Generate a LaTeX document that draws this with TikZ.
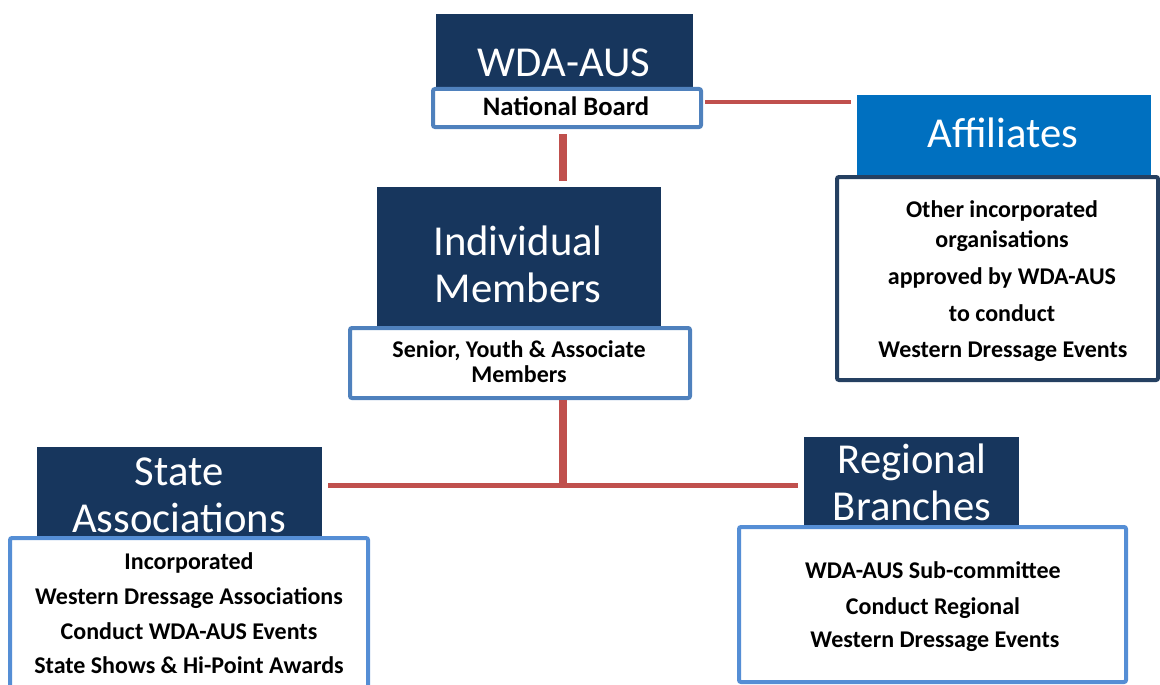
\documentclass[tikz,border=0pt]{standalone}
\usepackage{fontspec}
\setmainfont{Carlito}
\usetikzlibrary{fit,calc}

\definecolor{navy}{HTML}{17365D}
\definecolor{affblue}{HTML}{0070C0}
\definecolor{rimblue}{HTML}{4F81BD}
\definecolor{rimlight}{HTML}{558ED5}
\definecolor{rimdark}{HTML}{254061}
\definecolor{linkred}{HTML}{C0504D}

\tikzset{
  headbox/.style={fill=navy, draw=none, inner sep=0pt},
  affhead/.style={fill=affblue, draw=none, inner sep=0pt},
  infobox/.style={fill=white, draw=rimblue, line width=3pt, rounded corners=1.5pt, inner sep=0pt},
  infolight/.style={infobox, draw=rimlight},
  infodark/.style={infobox, draw=rimdark},
  headtext/.style={text=white, font=\fontsize{32}{36}\selectfont, anchor=base, inner sep=0pt},
  bodytext/.style={text=black, font=\bfseries\fontsize{18}{21}\selectfont, anchor=base, inner sep=0pt},
  boardtext/.style={bodytext, font=\bfseries\fontsize{20}{23}\selectfont},
  linkthick/.style={draw=linkred, line width=6pt},
  linkthin/.style={draw=linkred, line width=3pt},
}

\begin{document}
\begin{tikzpicture}[x=0.75pt, y=-0.75pt]
\useasboundingbox (0,0) rectangle (1160,685);
\clip (0,0) rectangle (1160,685);

% ---- header boxes ----
\node[headbox, fit={(436,14)(693,110)}] (wda) {};
\node[affhead, fit={(857,95)(1151,177)}] (aff) {};
\node[headbox, fit={(377,187)(661,330)}] (ind) {};
\node[headbox, fit={(37,447)(322,540)}] (sta) {};
\node[headbox, fit={(804,437)(1019,528)}] (reg) {};

% ---- description boxes ----
\node[infobox,   fit={(433,89)(701,127)}]   (nb)   {};
\node[infodark,  fit={(837,177)(1158,380)}] (affd) {};
\node[infobox,   fit={(350,328)(690,398)}]  (mem)  {};
\node[infolight, fit={(10,538)(368,700)}]   (stad) {};
\node[infolight, fit={(739,527)(1126,682)}] (regd) {};

% ---- headings ----
\node[headtext] (t1) at (564,77) {WDA-AUS};
\node[headtext] (t2) at (1003,147) {Affiliates};
\node[headtext] (t3) at (518,255) {Individual};
\node[headtext] (t4) at (518,302) {Members};
\node[headtext] (t5) at (179,485) {State};
\node[headtext] (t6) at (179,532) {Associations};
\node[headtext] (t7) at (912,473) {Regional};
\node[headtext] (t8) at (912,520) {Branches};

% ---- descriptions ----
\node[boardtext] (d1) at (566,115) {National Board};

\node[bodytext] (a1) at (1002,217) {Other incorporated};
\node[bodytext] (a2) at (1002,247) {organisations};
\node[bodytext] (a3) at (1002,284) {approved by WDA-AUS};
\node[bodytext] (a4) at (1002,321) {to conduct};
\node[bodytext] (a5) at (1003,357) {Western Dressage Events};

\node[bodytext] (m1) at (519,357) {Senior, Youth \& Associate};
\node[bodytext] (m2) at (519,382) {Members};

\node[bodytext] (s1) at (189,569) {Incorporated};
\node[bodytext] (s2) at (189,604) {Western Dressage Associations};
\node[bodytext] (s3) at (189,639) {Conduct WDA-AUS Events};
\node[bodytext] (s4) at (189,673) {State Shows \& Hi-Point Awards};

\node[bodytext] (r1) at (933,578) {WDA-AUS Sub-committee};
\node[bodytext] (r2) at (933,614) {Conduct Regional};
\node[bodytext] (r3) at (935,647) {Western Dressage Events};

% ---- connectors ----
\coordinate (spine) at (563,485);
\draw[linkthick, shorten <=4pt, shorten >=4.5pt] (nb.south -| spine) -- (ind.north -| spine);
\draw[linkthin, shorten <=1.5pt, shorten >=4.5pt] (nb.east |- 0,102) -- (aff.west |- 0,102);
\draw[linkthick] (mem.south -| spine) -- (spine);
\draw[line width=3.75pt, draw=linkred, shorten <=4.5pt, shorten >=4.5pt] (sta.east |- spine) -- (reg.west |- spine);
\end{tikzpicture}
\end{document}
